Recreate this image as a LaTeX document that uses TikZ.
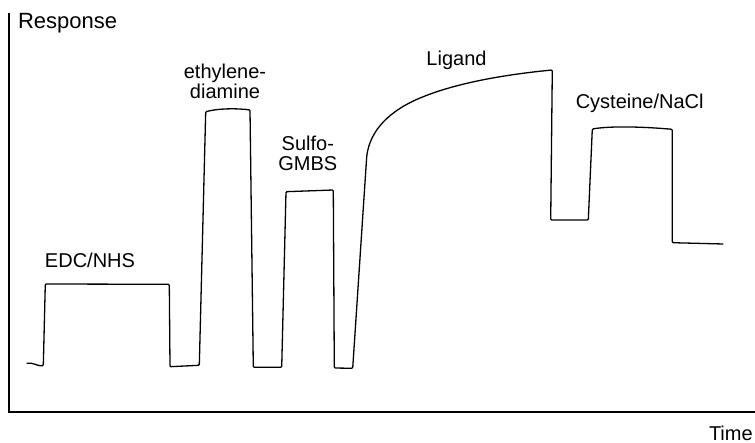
\documentclass[tikz,border=0pt]{standalone}
\usepackage{fontspec}
\setmainfont{Liberation Sans}
\usepackage{tikz}
\tikzset{
  every node/.style = {
    inner sep = 0pt,
    outer sep = 0pt
  }
}
\usetikzlibrary{
positioning
}

\begin{document}
\begin{tikzpicture}[
      x = 1pt,
      y = -1pt,
      step label/.style={
        font = \fontsize{20}{20.5}\selectfont,
        align = center,
        anchor = base,
      },
      axis line/.style={
        line width = 1.3pt,
      },
      sensor trace/.style={
        line width = 1.3pt,
        line join = round,
        rounded corners = 1pt,
      },
      ]
      \useasboundingbox (0,0) rectangle (755,443);
      % axes
      \coordinate (axis-top) at (9,13);
      \coordinate (axis-origin) at (9,412);
      \coordinate (axis-end) at (755,412);
      \draw [axis line] (axis-top) -- (axis-origin) -- (axis-end);
      \node [step label, font=\fontsize{22}{24}\selectfont, anchor=base west, name=node-response] at (18,28.5) {Response};
      \node [step label, anchor=base east, name=node-time] at (752.7,440) {Time};
      % sensorgram
      \draw [sensor trace]
      (26.7,363.3) .. controls (33,362) and (38,366.5) .. (43.3,365.7)
      -- (45.3,284) -- (169.3,284.3) -- (170,366.7) -- (199.3,365.3)
      -- (205.7,111.7) .. controls (220,108) and (240,108.5) .. (250,110)
      -- (253.3,367.3) -- (281.7,367.3)
      -- (286,191.7) -- (333.3,190) -- (334.3,368) -- (352.7,368.3)
      -- (366.7,156.7) .. controls (370,130) and (390,110) .. (423.3,96.7)
      .. controls (455,84) and (500,75) .. (552.3,70)
      -- (550.7,220) -- (588.3,220)
      -- (592.3,129) .. controls (610,126) and (640,126.5) .. (672.3,129.3)
      -- (672.3,242.7) -- (723.3,244);
      % labels (base = last line)
      \node [step label, name=node-edc] at (90,267.3) {EDC/NHS};
      \node [step label, name=node-eda] at (225,99) {ethylene-\\diamine};
      \node [step label, name=node-gmbs] at (307.8,170.7) {Sulfo-\\GMBS};
      \node [step label, name=node-ligand] at (456.5,66) {Ligand};
      \node [step label, name=node-cys] at (639.7,108.3) {Cysteine/NaCl};
    \end{tikzpicture}
\end{document}
